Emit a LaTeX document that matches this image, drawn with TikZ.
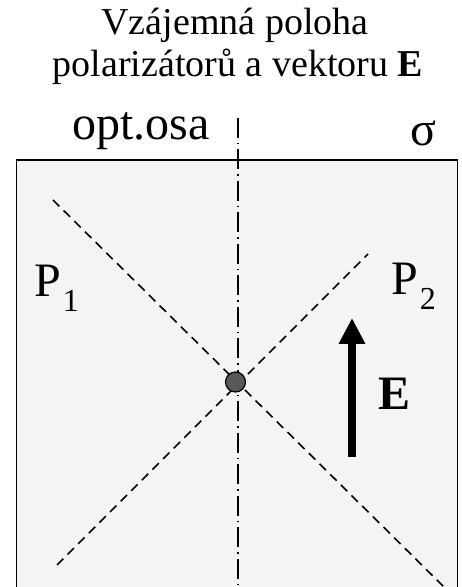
\documentclass[tikz,border=0pt]{standalone}
\usepackage{fontspec}
\setmainfont{Liberation Serif}
\usetikzlibrary{arrows.meta}
\definecolor{plate}{HTML}{F4F4F4}
\definecolor{dotgray}{HTML}{585858}
\tikzset{
  polline/.style={line width=1.6pt,dash pattern=on 9pt off 6pt},
  axisline/.style={line width=1.4pt,dash pattern=on 20pt off 5pt on 1.5pt off 5pt},
  bigtext/.style={inner sep=0pt,font=\fontsize{48}{48}\selectfont},
}
\begin{document}
\begin{tikzpicture}[x=1pt,y=1pt]
\useasboundingbox (0,0) rectangle (462,587);
\clip (0,0) rectangle (462,587);
% title
\node[inner sep=0pt,anchor=base,font=\fontsize{38}{42}\selectfont] (title1) at (235,552) {Vzájemná poloha};
\node[inner sep=0pt,anchor=base,font=\fontsize{38}{42}\selectfont] (title2) at (238,510) {polarizátorů a vektoru \textbf{E}};

% plate
\fill[plate] (16.5,-5) rectangle (457.5,427);
\draw[line width=1.8pt] (16.5,-5) -- (16.5,427) -- (457.5,427) -- (457.5,-5);
\node[bigtext,anchor=base west] (osa) at (72,447) {opt.osa};
\node[inner sep=0pt,anchor=base,font=\fontsize{48}{48}\selectfont] (sigma) at (423,441) {σ};

% optical axis and polarizers
\coordinate (axtop) at (238,469);
\coordinate (axbot) at (238,-5);
\draw[axisline] (axtop) -- (axbot);
\coordinate (p1a) at (53,387);
\coordinate (p1b) at (444,0);
\draw[polline] (p1a) -- (p1b);
\coordinate (p2a) at (57,22);
\coordinate (p2b) at (368,333);
\draw[polline] (p2a) -- (p2b);
\node[circle,draw,line width=1.2pt,fill=dotgray,minimum size=20pt,inner sep=0pt] (center) at (235.5,205) {};

\node[bigtext,anchor=base west] (pone) at (34,290) {P\kern2pt\raisebox{-15pt}{\fontsize{32}{32}\selectfont 1}};
\node[bigtext,anchor=base west] (ptwo) at (391,292) {P\kern2pt\raisebox{-15pt}{\fontsize{32}{32}\selectfont 2}};

% vector E
\coordinate (etail) at (352,130);
\coordinate (ehead) at (352,269);
\draw[line width=8pt,-{Triangle[width=25pt,length=26pt]}] (etail) -- (ehead);
\node[bigtext,anchor=base] (evec) at (395,177) {\textbf{E}};
\end{tikzpicture}
\end{document}
